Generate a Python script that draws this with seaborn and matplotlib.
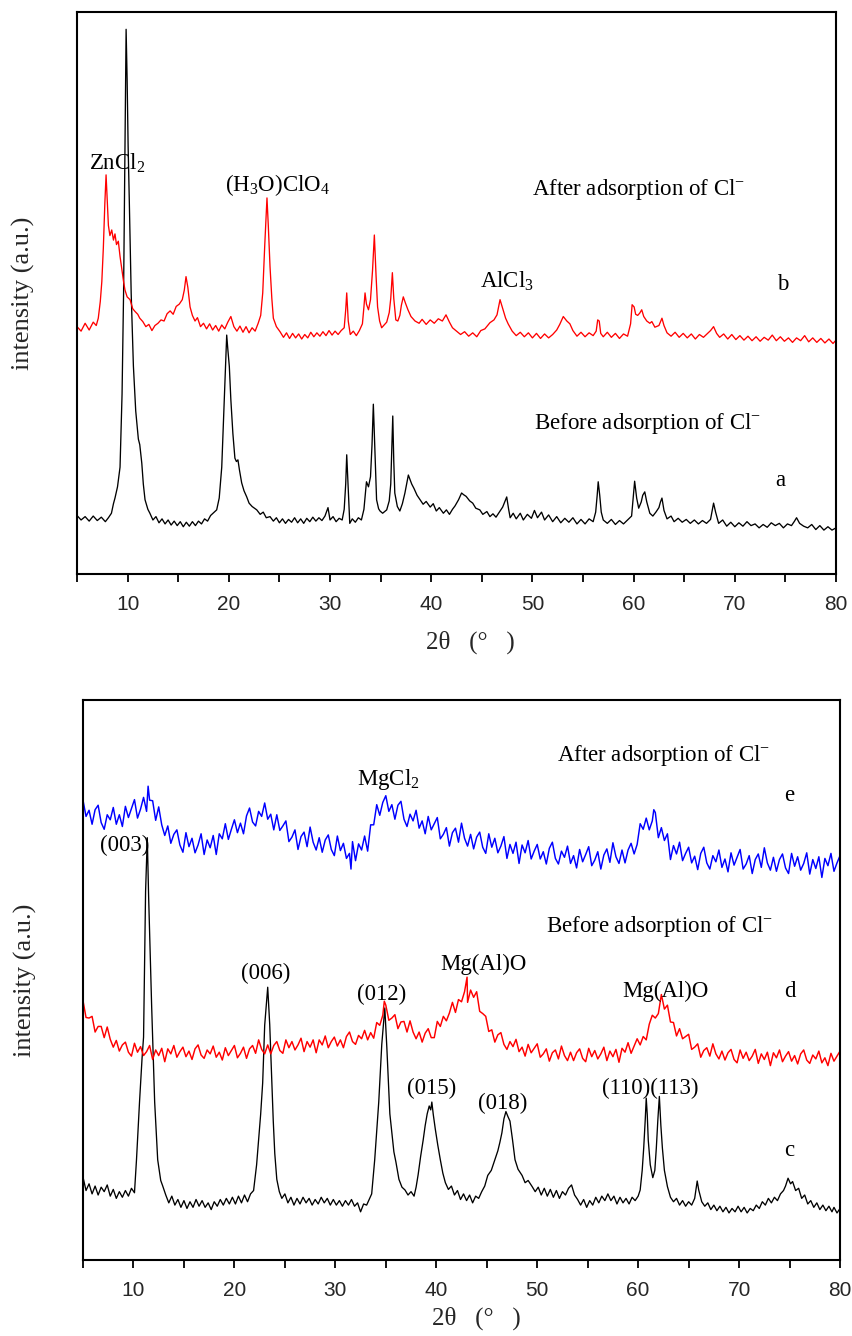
import matplotlib
matplotlib.use("Agg")
import matplotlib.pyplot as plt
from matplotlib.ticker import MultipleLocator
import pandas as pd
import seaborn as sns

# ---------------- data (2theta [deg], intensity [a.u.]) ----------------
# top panel, curve a (black, before adsorption)
curve_a = [
    (5.0, 10.4), (5.4, 9.6), (5.8, 10.2), (6.2, 9.4), (6.6, 10.3), (7.0, 9.5), (7.4, 10.1), (7.8, 9.3),
    (8.1, 10.0), (8.4, 10.8), (8.6, 12.5), (8.75, 13.5), (9.0, 15.5), (9.25, 19), (9.45, 32), (9.6, 50),
    (9.75, 78), (9.85, 96.9), (9.95, 88), (10.05, 76), (10.17, 66), (10.35, 50), (10.57, 37), (10.8, 29),
    (11.06, 24), (11.2, 23), (11.4, 19.7), (11.55, 16), (11.72, 13.2), (12.0, 11.5), (12.2, 10.8),
    (12.5, 9.6), (12.8, 10.2), (13.1, 9.1), (13.4, 9.8), (13.7, 8.9), (14.0, 9.6), (14.3, 8.7), (14.6, 9.4),
    (14.9, 8.6), (15.2, 9.3), (15.5, 8.4), (15.8, 9.2), (16.1, 8.5), (16.4, 9.3), (16.7, 8.6), (17.0, 9.4),
    (17.3, 8.9), (17.6, 9.8), (17.9, 9.4), (18.2, 10.4), (18.5, 10.9), (18.8, 11.4), (19.05, 13.5),
    (19.3, 19), (19.55, 31), (19.7, 38), (19.79, 42.5), (19.9, 40), (20.05, 36.9), (20.2, 31), (20.4, 25),
    (20.6, 20.6), (20.75, 20.0), (20.9, 20.3), (21.05, 18.5), (21.27, 16.2), (21.5, 14.8), (21.77, 13.7),
    (22.0, 12.6), (22.3, 12.0), (22.76, 11.4), (23.1, 10.6), (23.4, 11.0), (23.7, 10.0), (24.07, 10.2),
    (24.4, 9.4), (24.7, 10.0), (25.0, 9.1), (25.3, 9.8), (25.6, 9.0), (25.9, 9.7), (26.2, 9.2), (26.5, 10.0),
    (26.8, 9.1), (27.1, 9.8), (27.4, 9.0), (27.7, 9.9), (28.0, 9.3), (28.3, 10.1), (28.6, 9.4), (28.9, 10.0),
    (29.2, 9.5), (29.5, 10.3), (29.8, 11.8), (30.0, 9.6), (30.3, 10.2), (30.6, 9.3), (30.9, 9.9), (31.2, 9.6),
    (31.4, 11.5), (31.55, 16), (31.65, 21.2), (31.8, 15), (31.95, 9.0), (32.2, 9.8), (32.5, 9.2), (32.8, 10.0),
    (33.1, 9.6), (33.35, 11.5), (33.6, 16.4), (33.8, 15.5), (34.0, 17.3), (34.15, 23), (34.28, 30.2),
    (34.45, 21), (34.6, 13.2), (34.8, 11.6), (34.94, 11.2), (35.2, 10.8), (35.6, 11.4), (35.85, 13),
    (36.0, 16), (36.2, 28.1), (36.3, 20), (36.4, 14.4), (36.65, 12), (36.9, 11.2), (37.15, 12.5),
    (37.4, 14.4), (37.6, 16.3), (37.74, 17.6), (37.9, 16.8), (38.07, 16.0), (38.3, 15.2), (38.6, 14.0),
    (38.9, 13.2), (39.2, 12.4), (39.5, 12.9), (39.9, 11.9), (40.2, 12.5), (40.5, 11.2), (40.8, 11.8),
    (41.2, 10.8), (41.5, 11.4), (41.8, 10.6), (42.1, 11.5), (42.35, 12.1), (42.7, 13.2), (43.0, 14.4),
    (43.2, 14.1), (43.45, 13.8), (43.8, 13.0), (44.1, 12.6), (44.4, 11.7), (44.8, 11.4), (45.1, 10.6),
    (45.5, 11.1), (45.8, 10.2), (46.1, 10.7), (46.4, 10.1), (46.8, 11.2), (47.06, 11.9), (47.3, 13.0),
    (47.46, 13.7), (47.65, 11.5), (47.8, 10.0), (48.1, 10.8), (48.4, 9.8), (48.8, 10.8), (49.1, 9.6),
    (49.5, 10.6), (49.9, 9.9), (50.2, 11.3), (50.5, 10.0), (50.9, 11.0), (51.2, 9.6), (51.6, 10.5),
    (52.0, 9.3), (52.4, 10.2), (52.8, 9.1), (53.2, 9.9), (53.6, 9.2), (54.0, 10.0), (54.4, 8.9), (54.8, 9.7),
    (55.2, 8.9), (55.6, 9.8), (56.0, 9.3), (56.25, 11), (56.4, 14), (56.5, 16.4), (56.65, 14), (56.8, 11),
    (57.0, 9.6), (57.4, 9.0), (57.8, 9.7), (58.2, 8.8), (58.6, 9.5), (59.0, 8.9), (59.4, 9.6), (59.8, 10.3),
    (59.95, 13.5), (60.1, 16.5), (60.3, 13.5), (60.5, 11.7), (60.75, 12.8), (60.9, 14.0), (61.1, 14.6),
    (61.3, 12.8), (61.6, 10.8), (61.9, 10.3), (62.2, 11.0), (62.5, 11.8), (62.65, 12.8), (62.8, 13.5),
    (63.0, 11.3), (63.3, 9.8), (63.7, 10.3), (64.0, 9.3), (64.4, 9.9), (64.8, 9.2), (65.2, 9.7), (65.6, 9.0),
    (66.0, 9.6), (66.4, 8.9), (66.8, 9.5), (67.2, 9.0), (67.6, 9.7), (67.9, 12.6), (68.1, 11.0), (68.4, 9.0),
    (68.8, 9.6), (69.2, 8.5), (69.6, 9.2), (70.0, 8.4), (70.4, 9.1), (70.8, 8.5), (71.2, 9.3), (71.6, 8.6),
    (72.0, 8.9), (72.4, 8.2), (72.8, 8.8), (73.2, 8.3), (73.6, 9.1), (74.0, 8.6), (74.4, 9.0), (74.8, 8.2),
    (75.2, 8.9), (75.6, 8.6), (75.9, 9.4), (76.1, 10.0), (76.4, 9.0), (76.8, 8.5), (77.2, 8.2), (77.6, 8.8),
    (78.0, 7.9), (78.4, 8.6), (78.8, 7.8), (79.2, 8.4), (79.6, 7.8), (80.0, 8.2),
]

# top panel, curve b (red, after adsorption)
curve_b = [
    (5.0, 44.0), (5.4, 43.2), (5.8, 44.6), (6.2, 43.4), (6.6, 44.8), (6.9, 44.2), (7.1, 45.5), (7.3, 48.5),
    (7.45, 52), (7.6, 58), (7.75, 66), (7.87, 71.0), (8.0, 66), (8.1, 62), (8.25, 60.2), (8.43, 61.2),
    (8.6, 59.4), (8.75, 60.5), (8.9, 58.6), (9.08, 59.2), (9.25, 56.5), (9.4, 54.6), (9.6, 52), (9.74, 50.5),
    (9.95, 49.3), (10.24, 48.8), (10.5, 47.2), (10.73, 46.7), (11.0, 46.2), (11.2, 45.5), (11.5, 44.9),
    (11.8, 44.0), (12.1, 44.4), (12.4, 43.3), (12.7, 44.2), (13.0, 44.6), (13.3, 45.2), (13.6, 45.0),
    (13.9, 46.3), (14.2, 46.8), (14.5, 46.2), (14.8, 47.6), (15.1, 48.0), (15.4, 48.8), (15.6, 50.5),
    (15.77, 52.9), (15.95, 51), (16.17, 47.5), (16.4, 46.0), (16.66, 45.0), (16.9, 45.6), (17.2, 44.0),
    (17.5, 44.6), (17.8, 43.6), (18.1, 44.5), (18.4, 43.4), (18.7, 44.2), (19.0, 43.2), (19.3, 44.3),
    (19.6, 43.6), (19.9, 44.8), (20.2, 45.8), (20.5, 44.0), (20.8, 43.2), (21.1, 44.1), (21.4, 43.0),
    (21.7, 44.0), (22.0, 42.9), (22.3, 43.8), (22.6, 43.2), (22.9, 44.6), (23.15, 46), (23.35, 50),
    (23.55, 58.5), (23.77, 66.9), (23.9, 62), (24.07, 54.7), (24.25, 49), (24.4, 45.5), (24.7, 44.0),
    (25.06, 43.1), (25.4, 42.1), (25.7, 42.9), (26.0, 41.9), (26.3, 42.8), (26.6, 42.0), (26.9, 42.7),
    (27.2, 41.8), (27.5, 42.6), (27.8, 42.0), (28.1, 43.0), (28.4, 42.2), (28.7, 42.9), (29.0, 42.3),
    (29.3, 43.1), (29.6, 42.4), (29.9, 43.3), (30.2, 42.5), (30.5, 43.2), (30.8, 42.6), (31.1, 43.3),
    (31.4, 43.8), (31.55, 47), (31.65, 50.0), (31.8, 45), (32.0, 42.6), (32.3, 43.2), (32.6, 42.4),
    (32.9, 43.3), (33.2, 44.5), (33.35, 47.5), (33.46, 50.0), (33.6, 48), (33.8, 47.0), (34.0, 48.8),
    (34.2, 54), (34.38, 60.3), (34.55, 53), (34.7, 47.5), (34.9, 45), (35.1, 43.8), (35.35, 44.3),
    (35.6, 44.8), (35.85, 46.5), (36.0, 49), (36.16, 53.6), (36.3, 49), (36.5, 45.2), (36.7, 45.0),
    (36.9, 46.0), (37.05, 47.8), (37.24, 49.3), (37.45, 48.2), (37.7, 47.0), (38.0, 45.8), (38.4, 45.0),
    (38.8, 44.6), (39.1, 45.3), (39.5, 44.4), (39.9, 45.2), (40.3, 44.6), (40.7, 45.4), (41.1, 45.0),
    (41.46, 46.1), (41.8, 44.8), (42.1, 43.8), (42.5, 43.2), (42.9, 42.6), (43.3, 43.1), (43.7, 42.3),
    (44.1, 42.9), (44.5, 42.2), (44.9, 43.3), (45.3, 43.6), (45.8, 44.7), (46.2, 45.2), (46.5, 46.1),
    (46.8, 48.8), (47.1, 47.0), (47.35, 45.5), (47.6, 44.5), (48.0, 43.2), (48.4, 42.4), (48.8, 43.0),
    (49.2, 42.2), (49.6, 42.9), (50.0, 42.0), (50.4, 42.8), (50.8, 41.9), (51.2, 42.7), (51.6, 42.0),
    (52.0, 42.6), (52.4, 43.4), (52.7, 44.4), (53.05, 45.8), (53.4, 45.0), (53.7, 44.5), (54.0, 43.3),
    (54.4, 42.3), (54.8, 43.0), (55.2, 42.2), (55.6, 42.9), (56.0, 42.4), (56.3, 43.2), (56.45, 45.2),
    (56.6, 45.0), (56.75, 42.8), (57.0, 42.2), (57.4, 43.0), (57.8, 42.1), (58.2, 42.8), (58.6, 41.9),
    (59.0, 42.7), (59.4, 42.3), (59.7, 44.5), (59.85, 47.9), (60.05, 47.5), (60.2, 46.2), (60.4, 46.0),
    (60.6, 46.4), (60.8, 47.0), (61.0, 45.8), (61.3, 45.0), (61.6, 44.6), (61.8, 44.9), (62.1, 43.9),
    (62.5, 44.2), (62.8, 45.5), (63.0, 44.2), (63.3, 42.9), (63.7, 42.3), (64.1, 43.0), (64.5, 42.1),
    (64.9, 42.8), (65.3, 42.0), (65.7, 42.7), (66.1, 41.8), (66.5, 42.6), (66.9, 42.1), (67.3, 42.8),
    (67.6, 43.3), (67.9, 44.0), (68.2, 42.8), (68.5, 42.1), (68.9, 42.7), (69.3, 41.8), (69.7, 42.6),
    (70.1, 41.7), (70.5, 42.4), (70.9, 41.6), (71.3, 42.3), (71.7, 41.5), (72.1, 42.2), (72.5, 41.4),
    (72.9, 42.1), (73.3, 41.6), (73.7, 42.5), (74.1, 41.5), (74.5, 42.2), (74.9, 41.4), (75.3, 42.0),
    (75.7, 41.2), (76.1, 42.0), (76.5, 41.5), (76.9, 42.4), (77.3, 41.3), (77.7, 42.0), (78.1, 41.2),
    (78.5, 41.9), (78.9, 41.1), (79.3, 41.8), (79.7, 41.0), (80.0, 41.6),
]

# bottom panel, curve c (black)
curve_c = [
    (5.0, 14.8), (5.3, 12.4), (5.6, 13.6), (5.9, 11.8), (6.2, 13.2), (6.5, 11.6), (6.8, 13.0), (7.1, 12.2),
    (7.4, 13.4), (7.7, 11.4), (8.0, 12.6), (8.3, 11.0), (8.6, 12.2), (8.9, 11.2), (9.2, 12.4), (9.5, 11.4),
    (9.8, 12.8), (10.1, 12.0), (10.3, 17.9), (10.6, 28.2), (10.85, 36), (11.0, 39.8), (11.2, 65.8),
    (11.37, 75.4), (11.5, 65), (11.65, 55), (11.8, 45.4), (12.1, 28.2), (12.4, 17.9), (12.7, 14.2),
    (12.9, 13.2), (13.2, 11.6), (13.5, 10.2), (13.8, 11.4), (14.1, 9.8), (14.4, 10.8), (14.7, 9.4),
    (15.0, 10.6), (15.3, 9.2), (15.6, 10.4), (15.9, 9.4), (16.2, 10.8), (16.5, 9.6), (16.8, 10.6),
    (17.1, 9.4), (17.4, 10.2), (17.7, 9.0), (18.0, 10.4), (18.3, 9.6), (18.6, 10.8), (18.9, 9.8),
    (19.2, 11.0), (19.5, 10.0), (19.8, 11.2), (20.1, 10.0), (20.4, 11.4), (20.7, 10.2), (21.0, 11.6),
    (21.3, 10.4), (21.6, 11.8), (21.9, 12.4), (22.2, 17), (22.4, 21.4), (22.6, 26), (22.8, 31.6),
    (23.0, 41.9), (23.3, 48.7), (23.5, 42), (23.7, 32), (23.85, 24.8), (24.0, 19), (24.2, 14.4),
    (24.45, 12.2), (24.7, 11.0), (25.0, 11.8), (25.3, 10.2), (25.6, 11.2), (25.9, 9.8), (26.2, 11.0),
    (26.5, 10.0), (26.8, 11.2), (27.1, 10.2), (27.4, 11.0), (27.7, 9.8), (28.0, 10.8), (28.3, 10.0),
    (28.6, 11.2), (28.9, 10.2), (29.2, 11.0), (29.5, 9.8), (29.8, 10.8), (30.1, 9.8), (30.4, 10.6),
    (30.7, 9.6), (31.0, 10.6), (31.3, 9.8), (31.6, 10.8), (31.9, 9.6), (32.2, 10.2), (32.5, 8.6),
    (32.8, 10.0), (33.1, 9.8), (33.4, 11.0), (33.6, 11.8), (33.9, 17.9), (34.3, 28.2), (34.6, 38.5),
    (34.9, 45.0), (35.1, 38), (35.25, 32), (35.4, 26.1), (35.8, 19.3), (36.0, 17.5), (36.3, 14.4),
    (36.6, 13.0), (36.9, 12.5), (37.2, 11.6), (37.5, 12.2), (37.8, 11.4), (38.0, 13.0), (38.2, 15.2),
    (38.45, 18.5), (38.7, 21.4), (38.9, 24), (39.1, 26.1), (39.3, 27.5), (39.45, 26.8), (39.56, 28.2),
    (39.7, 26), (39.9, 23.4), (40.15, 20.5), (40.4, 17.9), (40.65, 15.5), (40.9, 13.8), (41.2, 12.6),
    (41.5, 13.2), (41.8, 11.6), (42.1, 12.4), (42.4, 10.8), (42.7, 11.8), (43.0, 10.6), (43.3, 11.6),
    (43.6, 10.2), (43.9, 11.4), (44.2, 11.0), (44.5, 12.2), (44.8, 13.2), (45.1, 15.1), (45.45, 16.0),
    (45.8, 17.9), (46.1, 19.5), (46.3, 21), (46.5, 22.7), (46.7, 25.2), (46.9, 26.5), (47.1, 25.6),
    (47.3, 24.8), (47.55, 21.5), (47.8, 17.9), (48.1, 16.2), (48.5, 15.1), (48.8, 13.8), (49.1, 14.2),
    (49.5, 13.1), (49.8, 12.2), (50.1, 13.0), (50.4, 11.6), (50.7, 12.8), (51.0, 11.4), (51.3, 12.6),
    (51.6, 11.2), (51.9, 12.4), (52.2, 11.0), (52.5, 12.2), (52.8, 11.6), (53.1, 12.8), (53.4, 13.4),
    (53.7, 11.6), (54.0, 10.8), (54.3, 9.8), (54.6, 10.8), (54.9, 9.4), (55.2, 10.6), (55.5, 9.8),
    (55.8, 11.2), (56.1, 10.2), (56.4, 11.4), (56.7, 10.6), (57.0, 11.8), (57.3, 10.6), (57.6, 11.4),
    (57.9, 10.0), (58.2, 11.2), (58.5, 10.2), (58.8, 11.0), (59.1, 10.0), (59.4, 11.2), (59.7, 10.6),
    (60.0, 11.4), (60.2, 12.5), (60.4, 16), (60.55, 20), (60.7, 25), (60.8, 28.9), (60.9, 26),
    (61.0, 21.4), (61.2, 17), (61.45, 14.7), (61.65, 16), (61.8, 20), (61.95, 25), (62.1, 29.2),
    (62.25, 24), (62.4, 20), (62.6, 16), (62.9, 13.1), (63.2, 11.2), (63.5, 10.4), (63.8, 11.0),
    (64.1, 9.8), (64.4, 10.6), (64.7, 9.6), (65.0, 10.4), (65.3, 9.8), (65.6, 11.0), (65.85, 14.1),
    (66.0, 12.5), (66.3, 10.4), (66.6, 9.6), (66.9, 10.2), (67.2, 9.0), (67.5, 9.8), (67.8, 8.8),
    (68.1, 9.6), (68.4, 8.6), (68.7, 9.4), (69.0, 8.4), (69.3, 9.2), (69.6, 8.6), (69.9, 9.6), (70.2, 8.6),
    (70.5, 9.4), (70.8, 8.4), (71.1, 9.2), (71.4, 8.8), (71.7, 9.8), (72.0, 9.2), (72.3, 10.4), (72.6, 9.8),
    (72.9, 11.0), (73.2, 10.2), (73.5, 11.2), (73.8, 10.6), (74.1, 11.8), (74.4, 12.4), (74.6, 13.2),
    (74.85, 14.6), (75.1, 13.6), (75.3, 14.0), (75.6, 12.4), (75.9, 12.8), (76.2, 11.0), (76.5, 11.6),
    (76.8, 10.0), (77.1, 10.6), (77.4, 9.4), (77.7, 10.2), (78.0, 9.0), (78.3, 9.8), (78.6, 8.8),
    (78.9, 9.6), (79.2, 8.6), (79.4, 9.4), (79.7, 8.4), (80.0, 9.2),
]

# bottom panel, curve d (red)
curve_d = [
    (5.0, 46.3), (5.3, 43.3), (5.6, 43.2), (5.9, 43.5), (6.2, 40.7), (6.5, 41.7), (6.8, 41.7), (7.1, 39.7),
    (7.4, 41.6), (7.7, 39.4), (8.0, 38.0), (8.3, 39.2), (8.6, 37.3), (8.9, 38.4), (9.2, 38.9), (9.5, 37.1),
    (9.8, 36.4), (10.1, 38.7), (10.4, 37.1), (10.7, 38.1), (11.0, 36.5), (11.3, 37.2), (11.6, 38.3),
    (11.9, 35.8), (12.2, 37.5), (12.5, 36.5), (12.8, 37.8), (13.1, 35.4), (13.4, 37.7), (13.7, 36.8),
    (14.0, 38.3), (14.3, 36.2), (14.6, 37.2), (14.9, 38.0), (15.2, 36.3), (15.5, 37.3), (15.8, 35.8),
    (16.1, 37.7), (16.4, 38.4), (16.7, 36.6), (17.0, 36.0), (17.3, 37.5), (17.6, 36.8), (17.9, 38.2),
    (18.2, 36.2), (18.5, 37.1), (18.8, 35.7), (19.1, 37.9), (19.4, 36.5), (19.7, 37.4), (20.0, 38.3),
    (20.3, 36.1), (20.6, 36.9), (20.9, 38.0), (21.2, 36.0), (21.5, 37.7), (21.8, 38.3), (22.1, 36.9),
    (22.4, 39.3), (22.7, 37.6), (23.0, 36.8), (23.3, 38.4), (23.6, 36.8), (23.9, 38.3), (24.2, 39.0),
    (24.5, 37.4), (24.8, 36.9), (25.1, 39.3), (25.4, 37.9), (25.7, 39.0), (26.0, 37.5), (26.3, 38.4),
    (26.6, 39.6), (26.9, 37.2), (27.2, 39.0), (27.5, 38.0), (27.8, 39.3), (28.1, 37.0), (28.4, 39.3),
    (28.7, 38.4), (29.0, 40.0), (29.3, 37.9), (29.6, 39.0), (29.9, 39.8), (30.2, 38.2), (30.5, 39.3),
    (30.8, 37.9), (31.1, 39.9), (31.4, 40.7), (31.7, 39.0), (32.0, 38.5), (32.3, 40.1), (32.6, 39.5),
    (32.9, 41.0), (33.2, 39.3), (33.5, 40.6), (33.8, 39.6), (34.1, 42.4), (34.4, 41.9), (34.7, 43.7),
    (34.85, 46.2), (35.0, 45.5), (35.3, 42.8), (35.6, 43.2), (35.9, 43.8), (36.2, 41.3), (36.5, 42.5),
    (36.8, 42.6), (37.1, 40.7), (37.4, 42.7), (37.7, 40.7), (38.0, 39.5), (38.3, 40.7), (38.6, 38.9),
    (38.9, 40.5), (39.2, 41.3), (39.5, 39.7), (39.8, 39.7), (40.1, 42.6), (40.4, 41.7), (40.7, 43.5),
    (41.0, 42.7), (41.3, 44.1), (41.6, 46.0), (41.9, 44.2), (42.2, 46.5), (42.5, 46.1), (42.8, 47.9),
    (43.05, 50.5), (43.1, 46.0), (43.4, 48.2), (43.7, 46.9), (44.0, 47.9), (44.3, 44.4), (44.6, 44.0),
    (44.9, 43.5), (45.2, 40.8), (45.5, 41.1), (45.8, 38.9), (46.1, 40.2), (46.4, 40.6), (46.7, 38.5),
    (47.0, 37.6), (47.3, 39.0), (47.6, 38.1), (47.9, 39.4), (48.2, 37.2), (48.5, 38.0), (48.8, 36.4),
    (49.1, 38.5), (49.4, 37.0), (49.7, 37.8), (50.0, 38.6), (50.3, 36.2), (50.6, 36.8), (50.9, 37.7),
    (51.2, 35.5), (51.5, 37.0), (51.8, 37.5), (52.1, 35.9), (52.4, 38.2), (52.7, 36.5), (53.0, 35.6),
    (53.3, 37.1), (53.6, 35.6), (53.9, 37.0), (54.2, 37.7), (54.5, 36.0), (54.8, 35.4), (55.1, 37.8),
    (55.4, 36.3), (55.7, 37.4), (56.0, 35.9), (56.3, 36.8), (56.6, 38.0), (56.9, 35.6), (57.2, 37.3),
    (57.5, 36.3), (57.8, 37.6), (58.1, 35.3), (58.4, 37.8), (58.7, 37.1), (59.0, 38.8), (59.3, 36.9),
    (59.6, 38.2), (59.9, 39.5), (60.2, 38.4), (60.5, 39.9), (60.8, 39.3), (61.1, 42.1), (61.4, 43.7),
    (61.7, 43.2), (62.0, 44.0), (62.3, 47.4), (62.6, 44.8), (62.9, 45.5), (63.2, 42.5), (63.5, 42.4),
    (63.8, 40.0), (64.1, 41.3), (64.4, 39.5), (64.7, 39.9), (65.0, 40.3), (65.3, 37.6), (65.6, 38.0),
    (65.9, 38.6), (66.2, 36.2), (66.5, 37.4), (66.8, 37.9), (67.1, 36.4), (67.4, 38.6), (67.7, 36.8),
    (68.0, 35.9), (68.3, 37.3), (68.6, 35.7), (68.9, 37.0), (69.2, 37.6), (69.5, 35.8), (69.8, 35.2),
    (70.1, 37.5), (70.4, 36.0), (70.7, 37.1), (71.0, 35.6), (71.3, 36.4), (71.6, 37.6), (71.9, 35.1),
    (72.2, 36.8), (72.5, 35.8), (72.8, 37.1), (73.1, 34.7), (73.4, 37.0), (73.7, 36.1), (74.0, 37.5),
    (74.3, 35.4), (74.6, 36.4), (74.9, 37.2), (75.2, 35.5), (75.5, 36.5), (75.8, 35.0), (76.1, 36.8),
    (76.4, 37.5), (76.7, 35.7), (77.0, 35.1), (77.3, 36.6), (77.6, 35.9), (77.9, 37.3), (78.2, 35.2),
    (78.5, 36.1), (78.8, 34.7), (79.1, 36.9), (79.4, 35.5), (79.7, 36.4), (80.0, 37.3),
]

# bottom panel, curve e (blue)
curve_e = [
    (5.0, 82.1), (5.3, 79.2), (5.6, 80.3), (5.9, 77.8), (6.2, 80.4), (6.5, 81.2), (6.8, 78.1), (7.1, 76.9),
    (7.4, 79.5), (7.7, 78.6), (8.0, 80.8), (8.3, 77.8), (8.6, 79.5), (8.9, 77.4), (9.2, 81.0), (9.5, 79.0),
    (9.8, 80.6), (10.1, 82.2), (10.4, 78.9), (10.7, 80.5), (11.0, 82.6), (11.3, 80.1), (11.45, 84.6),
    (11.6, 82.1), (11.9, 82.0), (12.2, 78.5), (12.5, 80.9), (12.8, 77.7), (13.1, 75.8), (13.4, 77.5),
    (13.7, 74.4), (14.0, 76.0), (14.3, 76.8), (14.6, 74.1), (14.9, 72.8), (15.2, 76.3), (15.5, 73.8),
    (15.8, 75.3), (16.1, 72.7), (16.4, 74.1), (16.7, 76.1), (17.0, 72.4), (17.3, 75.0), (17.6, 73.6),
    (17.9, 75.8), (18.2, 72.4), (18.5, 76.1), (18.8, 75.2), (19.1, 77.9), (19.4, 75.1), (19.7, 76.9),
    (20.0, 78.6), (20.3, 76.3), (20.6, 78.0), (20.9, 76.1), (21.2, 79.3), (21.5, 80.7), (21.8, 78.2),
    (22.1, 77.5), (22.4, 80.1), (22.7, 79.2), (23.0, 81.6), (23.3, 78.7), (23.6, 79.6), (23.9, 76.8),
    (24.2, 79.5), (24.5, 76.7), (24.8, 77.5), (25.1, 78.4), (25.4, 74.7), (25.7, 75.5), (26.0, 76.8),
    (26.3, 73.3), (26.6, 75.6), (26.9, 76.4), (27.2, 73.8), (27.5, 77.3), (27.8, 74.6), (28.1, 73.2),
    (28.4, 75.4), (28.7, 72.8), (29.0, 75.0), (29.3, 75.9), (29.6, 73.3), (29.9, 72.2), (30.2, 75.7),
    (30.5, 73.1), (30.8, 74.4), (31.1, 71.7), (31.4, 72.6), (31.55, 69.8), (31.7, 74.7), (32.0, 71.3),
    (32.3, 74.3), (32.6, 73.2), (32.9, 75.7), (33.2, 73.0), (33.5, 77.7), (33.8, 77.7), (34.1, 81.3),
    (34.4, 79.4), (34.7, 81.7), (35.0, 82.9), (35.3, 80.1), (35.6, 81.3), (35.9, 78.7), (36.2, 81.2),
    (36.5, 81.9), (36.8, 78.7), (37.1, 77.4), (37.4, 79.6), (37.7, 78.4), (38.0, 80.3), (38.3, 77.1),
    (38.6, 78.4), (38.9, 76.1), (39.2, 79.2), (39.5, 76.8), (39.8, 77.9), (40.1, 79.0), (40.4, 75.2),
    (40.7, 76.0), (41.0, 77.2), (41.3, 73.9), (41.6, 76.3), (41.9, 77.1), (42.2, 74.6), (42.5, 78.0),
    (42.8, 75.3), (43.1, 73.9), (43.4, 76.0), (43.7, 73.4), (44.0, 75.5), (44.3, 76.4), (44.6, 73.7),
    (44.9, 72.6), (45.2, 76.1), (45.5, 73.7), (45.8, 75.3), (46.1, 72.7), (46.4, 73.9), (46.7, 75.6),
    (47.0, 71.7), (47.3, 74.2), (47.6, 72.6), (47.9, 74.6), (48.2, 70.8), (48.5, 74.1), (48.8, 72.7),
    (49.1, 74.9), (49.4, 71.6), (49.7, 73.0), (50.0, 74.2), (50.3, 71.6), (50.6, 72.9), (50.9, 70.7),
    (51.2, 73.5), (51.5, 74.6), (51.8, 71.7), (52.1, 70.7), (52.4, 73.0), (52.7, 71.9), (53.0, 73.9),
    (53.3, 70.8), (53.6, 72.2), (53.9, 70.0), (54.2, 73.3), (54.5, 71.1), (54.8, 72.4), (55.1, 73.8),
    (55.4, 70.4), (55.7, 71.4), (56.0, 72.9), (56.3, 69.8), (56.6, 72.3), (56.9, 73.4), (57.2, 71.0),
    (57.5, 74.5), (57.8, 72.0), (58.1, 70.8), (58.4, 73.2), (58.7, 70.9), (59.0, 73.2), (59.3, 74.4),
    (59.6, 72.5), (59.9, 74.2), (60.2, 77.9), (60.5, 76.9), (60.8, 78.9), (61.1, 76.8), (61.4, 78.4),
    (61.55, 80.4), (61.7, 79.9), (62.0, 75.4), (62.3, 77.2), (62.6, 74.9), (62.9, 76.1), (63.2, 71.5),
    (63.5, 74.0), (63.8, 72.5), (64.1, 74.6), (64.4, 71.3), (64.7, 72.6), (65.0, 73.7), (65.3, 70.9),
    (65.6, 72.1), (65.9, 69.7), (66.2, 72.6), (66.5, 73.7), (66.8, 70.9), (67.1, 69.8), (67.4, 72.2),
    (67.7, 71.1), (68.0, 73.2), (68.3, 70.1), (68.6, 71.6), (68.9, 69.3), (69.2, 72.7), (69.5, 70.5),
    (69.8, 71.9), (70.1, 73.3), (70.4, 69.8), (70.7, 70.7), (71.0, 72.2), (71.3, 69.0), (71.6, 71.5),
    (71.9, 72.5), (72.2, 70.1), (72.5, 73.6), (72.8, 70.9), (73.1, 69.6), (73.4, 71.9), (73.7, 69.4),
    (74.0, 71.5), (74.3, 72.5), (74.6, 70.0), (74.9, 69.0), (75.2, 72.6), (75.5, 70.3), (75.8, 72.0),
    (76.1, 69.6), (76.4, 70.8), (76.7, 72.7), (77.0, 68.9), (77.3, 71.5), (77.6, 69.9), (77.9, 72.0),
    (78.2, 68.3), (78.5, 71.7), (78.8, 70.4), (79.1, 72.6), (79.4, 69.4), (79.7, 70.9), (80.0, 72.2),
]

x_ticks = [10, 20, 30, 40, 50, 60, 70, 80]
x_label = "2θ   (°   )"
y_label = "intensity (a.u.)"

# annotations: (text, 2theta, intensity)
top_notes = [
    (r"ZnCl$_2$", 6.15, 72.0),
    (r"(H$_3$O)ClO$_4$", 19.6, 68.2),
    (r"After adsorption of Cl$^{-}$", 50.0, 67.4),
    ("b", 74.2, 50.5),
    (r"AlCl$_3$", 44.8, 51.0),
    (r"Before adsorption of Cl$^{-}$", 50.2, 25.8),
    ("a", 74.0, 15.6),
]
bottom_notes = [
    (r"After adsorption of Cl$^{-}$", 52.0, 89.1),
    ("e", 74.5, 82.0),
    (r"MgCl$_2$", 32.1, 84.8),
    ("(003)", 6.7, 73.0),
    (r"Before adsorption of Cl$^{-}$", 50.9, 58.5),
    ("(006)", 20.7, 50.2),
    ("Mg(Al)O", 40.4, 51.8),
    ("(012)", 32.1, 46.4),
    ("Mg(Al)O", 58.4, 47.0),
    ("d", 74.5, 47.0),
    ("(015)", 37.1, 29.6),
    ("(018)", 44.1, 27.0),
    ("(110)(113)", 56.4, 29.6),
    ("c", 74.5, 18.6),
]

# ---------------- style ----------------
sns.set_style("ticks")
plt.rcParams["font.family"] = ["Liberation Serif", "DejaVu Serif"]
plt.rcParams["mathtext.fontset"] = "custom"
plt.rcParams["mathtext.rm"] = "Liberation Serif"
plt.rcParams["mathtext.it"] = "Liberation Serif:italic"
plt.rcParams["mathtext.bf"] = "Liberation Serif:bold"
plt.rcParams["mathtext.default"] = "regular"

fig = plt.figure(figsize=(8.53, 13.36), dpi=100)
ax_top = fig.add_axes([0.0903, 0.5704, 0.8898, 0.4207])
ax_bot = fig.add_axes([0.0973, 0.0569, 0.8875, 0.4192])


def draw(ax, pts, color, lw):
    df = pd.DataFrame(pts, columns=["two_theta", "intensity"])
    sns.lineplot(data=df, x="two_theta", y="intensity", ax=ax, color=color,
                 linewidth=lw, estimator=None, sort=False)


draw(ax_top, curve_a, "black", 0.95)
draw(ax_top, curve_b, "#ff0000", 0.95)
draw(ax_bot, curve_c, "black", 0.95)
draw(ax_bot, curve_d, "#ff0000", 1.05)
draw(ax_bot, curve_e, "#0000ff", 1.05)

for ax, notes, ylab_x, xlab_x, xlab_y in ((ax_top, top_notes, -0.055, 0.518, -0.10),
                                          (ax_bot, bottom_notes, -0.061, 0.52, -0.083)):
    ax.set_xlim(5, 80)
    ax.set_ylim(0, 100)
    ax.set_yticks([])
    ax.set_xticks(x_ticks)
    ax.xaxis.set_minor_locator(MultipleLocator(5))
    ax.tick_params(axis="x", which="both", direction="out", length=6, width=1.3,
                   pad=9, labelsize=15, labelfontfamily="Liberation Sans", color="black")
    for sp in ax.spines.values():
        sp.set_linewidth(1.5)
        sp.set_color("black")
    ax.set_xlabel(x_label, fontsize=18)
    ax.set_ylabel(y_label, fontsize=19)
    ax.xaxis.set_label_coords(xlab_x, xlab_y)
    ax.yaxis.set_label_coords(ylab_x, 0.5)
    for txt, xv, yv in notes:
        ax.text(xv, yv, txt, fontsize=16.5, ha="left", va="baseline", color="black")

fig.savefig("out.png", dpi=100)
